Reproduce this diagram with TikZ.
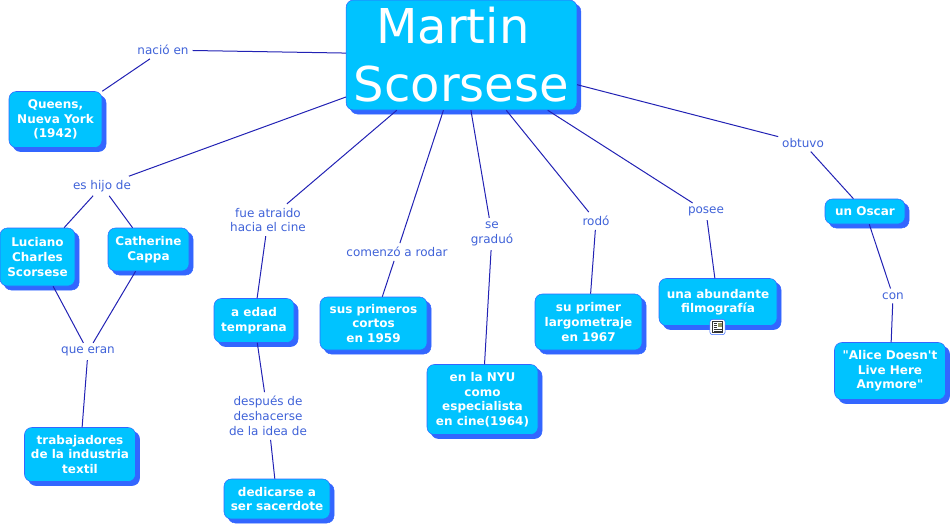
\documentclass[tikz,border=0pt]{standalone}
\usepackage{fontspec}
\setmainfont{DejaVu Sans}
\newfontfamily\straightquotes{DejaVu Sans}
\usepackage{xcolor}
\usetikzlibrary{shadows}
\definecolor{conceptfill}{HTML}{00C3FF}
\definecolor{conceptedge}{HTML}{3366FF}
\definecolor{linkline}{HTML}{2222B4}
\definecolor{linktext}{HTML}{3F62D8}
\tikzset{
  concept/.style={draw=conceptedge,fill=conceptfill,rounded corners=5.5pt,inner sep=0pt,
    text=white,align=center,font=\fontsize{9}{10.9}\selectfont\bfseries,
    copy shadow={shadow xshift=3pt,shadow yshift=-3pt,fill=conceptedge,draw=conceptedge}},
  linkname/.style={text=linktext,align=center,inner sep=2pt,outer sep=1pt,
    font=\fontsize{9}{11.2}\selectfont},
}
\begin{document}
\begin{tikzpicture}[x=0.75pt,y=-0.75pt]
  \useasboundingbox (0,0) rectangle (952,525);
  % concepts
  \node[concept,minimum width=173pt,minimum height=82.5pt,font=\fontsize{36}{43.5}\selectfont]
    (title) at (461.5,55) {Martin\hspace*{13pt}\\Scorsese};
  \node[concept,minimum width=69.75pt,minimum height=42pt] (queens) at (55.5,119.5) {Queens,\\Nueva York\\(1942)};
  \node[concept,minimum width=56.25pt,minimum height=43.5pt] (luciano) at (37.5,257) {Luciano\\Charles\\Scorsese};
  \node[concept,minimum width=60.75pt,minimum height=32.25pt] (catherine) at (148.5,249.5) {Catherine\\Cappa};
  \node[concept,minimum width=83.25pt,minimum height=40.5pt] (textil) at (80,454.5) {trabajadores\\de la industria\\textil};
  \node[concept,minimum width=60pt,minimum height=33pt] (temprana) at (254,320.5) {a edad\\temprana};
  \node[concept,minimum width=79.5pt,minimum height=30pt] (sacerdote) at (277,499) {dedicarse a\\ser sacerdote};
  \node[concept,minimum width=80.25pt,minimum height=39.75pt] (cortos) at (373.5,323.5) {sus primeros\\cortos\\en 1959};
  \node[concept,minimum width=83.25pt,minimum height=52.5pt] (nyu) at (482.5,399.5) {en la NYU\\como\\especialista\\en cine(1964)};
  \node[concept,minimum width=80.25pt,minimum height=42pt] (largo) at (588.5,322) {su primer\\largometraje\\en 1967};
  \node[concept,minimum width=88.5pt,minimum height=35.25pt] (filmo) at (718,302) {una abundante\\filmografía};
  \node[concept,minimum width=60pt,minimum height=18.75pt] (oscar) at (865,211.5) {un Oscar};
  \node[concept,minimum width=83.25pt,minimum height=42.75pt,font=\fontsize{9}{10.9}\selectfont\straightquotes\bfseries]
    (alice) at (890,371) {"Alice Doesn't\\Live Here\\Anymore"};
  % link names
  \node[linkname] (nacio) at (163,50) {nació en};
  \node[linkname] (hijo) at (102,186) {es hijo de};
  \node[linkname] (eran) at (88,351.5) {que eran};
  \node[linkname] (atraido) at (268,220) {fue atraido\\hacia el cine};
  \node[linkname] (despues) at (268,416) {después de\\deshacerse\\de la idea de};
  \node[linkname] (comenzo) at (397,252) {comenzó a rodar};
  \node[linkname] (graduo) at (492,234) {se\\graduó};
  \node[linkname] (rodo) at (596,221) {rodó};
  \node[linkname] (posee) at (706,211.5) {posee};
  \node[linkname] (obtuvo) at (803,143) {obtuvo};
  \node[linkname] (con) at (893,296) {con};
  % connectors
  \foreach \a/\b in {title/nacio,nacio/queens.north east,title/hijo,hijo/luciano,hijo/catherine,
      luciano/eran,catherine/eran,eran/textil,title/atraido,atraido/temprana,temprana/despues,
      despues/sacerdote,title/comenzo,comenzo/cortos,title/graduo,graduo/nyu,title/rodo,rodo/largo,
      title/posee,posee/filmo,title/obtuvo,obtuvo/oscar,oscar/con,con/alice}
    \draw[linkline,line width=0.75pt] (\a) -- (\b);
  % icon
  \node[draw=conceptedge,fill=white,rounded corners=2pt,minimum size=11.5pt,inner sep=0pt] (icon) at (717.5,327) {};
  \draw[black!80,fill=white,line width=0.45pt] (712.5,321.5) rectangle (722.5,332.5);
  \fill[conceptfill!40!orange] (717.5,323) rectangle (721.5,327);
  \foreach \t in {323.5,325.5,327.5}
    \draw[black!80,line width=0.45pt] (713.5,\t) -- (716.5,\t);
  \foreach \t in {329.5,331}
    \draw[black!80,line width=0.45pt] (713.5,\t) -- (721.5,\t);
\end{tikzpicture}
\end{document}
